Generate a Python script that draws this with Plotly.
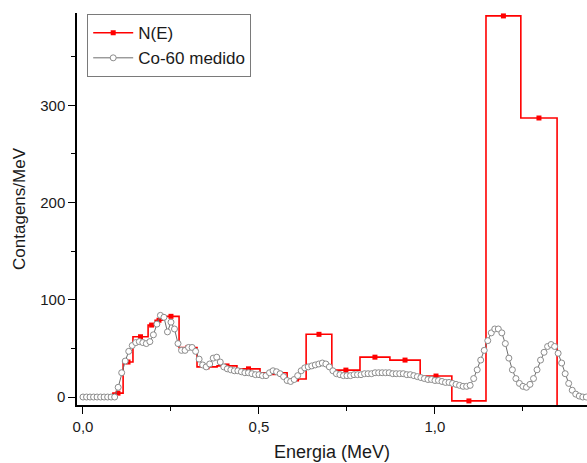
import plotly.graph_objects as go

# N(E) histogram: bin edges (MeV) and bin values (Contagens/MeV)
ne_edges = [0.07, 0.085, 0.114, 0.142, 0.185, 0.205, 0.227, 0.273, 0.324, 0.381, 0.4375,
            0.503, 0.58, 0.634, 0.707, 0.787, 0.872, 0.958, 1.048, 1.145, 1.244, 1.347]
ne_values = [0, 4, 36, 62, 74, 79, 83, 51, 31, 32, 29, 25, 18.5, 64.5, 27.7, 41, 38,
             21.6, -4, 392, 287]
ne_tail = -20  # value beyond the last edge (off-axis)

# Co-60 measured spectrum (0.01 MeV steps)
co_energy_step = 0.01
co_values = [
    0, 0, 0, 0, 0, 0, 0, 0, 0, 0,
    10, 25, 37, 47, 53, 56, 57, 56, 55, 57,
    64, 75, 84, 82, 67, 77, 70, 55, 48, 48,
    51, 51, 47, 39, 33, 31, 34, 40, 41, 36,
    31, 29, 28, 27, 27, 26, 25, 25, 24, 23,
    23, 22, 22, 25, 27, 26, 24, 21, 17, 16,
    18, 22, 27, 30, 31, 32, 33, 34, 35, 34,
    31, 27, 24, 23, 22, 22, 22, 23, 23, 23,
    24, 24, 24, 25, 25, 25, 25, 25, 24, 24,
    24, 24, 23, 23, 22, 21, 20, 19, 18, 18,
    17, 17, 16, 15, 15, 14, 13, 12, 11, 11,
    12, 19, 28, 38, 48, 58, 66, 70, 70, 66,
    55, 40, 28, 19, 14, 11, 10, 13, 19, 28,
    38, 46, 52, 54, 52, 45, 35, 24, 14, 7,
    3, 1, 0, 0,
]
co_energy = [round(i * co_energy_step, 3) for i in range(len(co_values))]

x_ticks = [0.0, 0.5, 1.0]
y_ticks = [0, 100, 200, 300]

ne_centers = [(ne_edges[i] + ne_edges[i + 1]) / 2 for i in range(1, len(ne_values))]
ne_marker_vals = ne_values[1:]

RED = "#FF0000"
GRAY = "#8c8c8c"
FONT = "Liberation Sans, Arial, sans-serif"

fig = go.Figure()
fig.add_trace(go.Scatter(
    x=ne_edges, y=ne_values + [ne_tail], mode="lines", line_shape="hv",
    line=dict(color=RED, width=1.6), showlegend=False, hoverinfo="skip"))
fig.add_trace(go.Scatter(
    x=ne_centers, y=ne_marker_vals, mode="markers", name="N(E)",
    marker=dict(symbol="square", size=5, color=RED), showlegend=False))
fig.add_trace(go.Scatter(
    x=[None], y=[None], mode="lines+markers", name="N(E)",
    line=dict(color=RED, width=1.6), marker=dict(symbol="square", size=5, color=RED)))
fig.add_trace(go.Scatter(
    x=co_energy, y=co_values, mode="lines+markers", name="Co-60 medido",
    line=dict(color="#6e6e6e", width=1),
    marker=dict(symbol="circle", size=6, color="white",
                line=dict(color=GRAY, width=1))))

fig.update_layout(
    width=587, height=463,
    margin=dict(l=77, r=0, t=13, b=58),
    paper_bgcolor="white", plot_bgcolor="white",
    separators=", ",
    font=dict(family=FONT, color="#1a1a1a"),
    legend=dict(x=0.02, y=0.997, xanchor="left", yanchor="top",
                bgcolor="white", bordercolor="#7a7a7a", borderwidth=1,
                font=dict(size=17, family=FONT, color="#1a1a1a"),
                itemwidth=40, tracegroupgap=0),
    xaxis=dict(range=[-0.017, 1.432], tickvals=x_ticks, tickformat=".1f",
               showgrid=False, zeroline=False, showline=True, linecolor="black",
               linewidth=1.5, ticks="outside", ticklen=7, tickwidth=1.3,
               tickcolor="black", tickfont=dict(size=15),
               minor=dict(dtick=0.25, tick0=0, ticks="outside", ticklen=4,
                          tickwidth=1.3, tickcolor="black"),
               title=dict(text="Energia (MeV)", font=dict(size=18), standoff=12)),
    yaxis=dict(range=[-8.2, 395], tickvals=y_ticks,
               showgrid=False, zeroline=False, showline=True, linecolor="black",
               linewidth=1.5, ticks="outside", ticklen=7, tickwidth=1.3,
               tickcolor="black", tickfont=dict(size=15),
               minor=dict(dtick=50, tick0=0, ticks="outside", ticklen=4,
                          tickwidth=1.3, tickcolor="black"),
               title=dict(text="Contagens/MeV", font=dict(size=17), standoff=10)),
)

fig.write_html("out.html")
